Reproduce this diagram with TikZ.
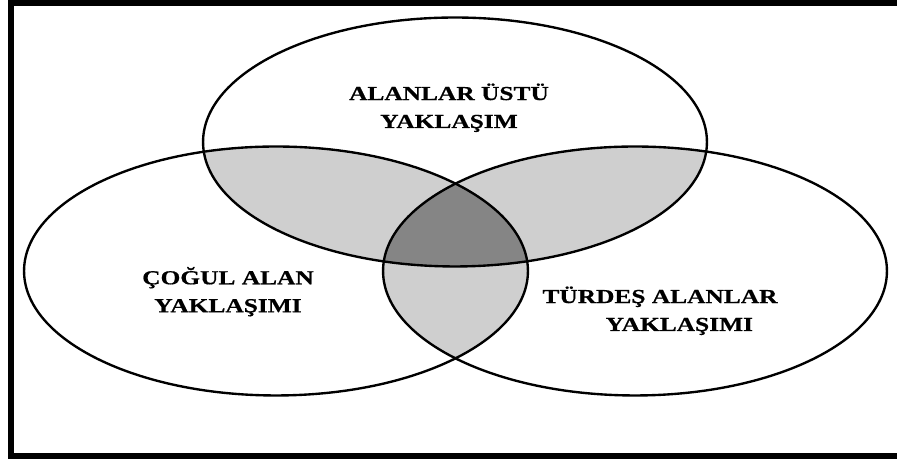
\documentclass[tikz,border=0pt]{standalone}
\usepackage{fontspec}
\setmainfont{Liberation Serif}
\newfontfamily\lblfont{Liberation Serif}[FakeStretch=1.28,FakeBold=0.6]
\begin{document}
\begin{tikzpicture}[x=0.02cm,y=0.02cm,
  set/.style={x radius=5.04cm, y radius=2.49cm},
  outline/.style={draw=black, line width=1.35pt},
  lightfill/.style={fill=black!19},
  darkfill/.style={fill=black!48},
  frame/.style={draw=black, line width=2.9pt, line join=miter},
  lbl/.style={font=\lblfont\bfseries\fontsize{11.3}{15.9}\selectfont, align=center, inner sep=0pt}]
\useasboundingbox (0,0) rectangle (897,462);
\coordinate (T) at (455,320);
\coordinate (L) at (276,191);
\coordinate (R) at (635,191);
% pairwise overlaps
\begin{scope}
  \clip (T) ellipse[set];
  \fill[lightfill] (L) ellipse[set];
  \fill[lightfill] (R) ellipse[set];
\end{scope}
\begin{scope}
  \clip (L) ellipse[set];
  \fill[lightfill] (R) ellipse[set];
\end{scope}
% triple overlap
\begin{scope}
  \clip (T) ellipse[set];
  \clip (L) ellipse[set];
  \fill[darkfill] (R) ellipse[set];
\end{scope}
\draw[outline] (T) ellipse[set];
\draw[outline] (L) ellipse[set];
\draw[outline] (R) ellipse[set];
% frame
\coordinate (f1) at (905,459);
\coordinate (f2) at (11,459);
\coordinate (f3) at (11,6);
\coordinate (f4) at (905,6);
\draw[frame] (f1) -- (f2) -- (f3) -- (f4);
% labels
\node[lbl] (tl) at (449,354.2) {ALANLAR ÜSTÜ\\YAKLAŞIM};
\node[lbl] (ll) at (228,170.3) {ÇOĞUL ALAN\\YAKLAŞIMI};
\node[lbl] (rl) at (660,151.2) {TÜRDEŞ ALANLAR\\\hspace*{22pt}YAKLAŞIMI};
\end{tikzpicture}
\end{document}
